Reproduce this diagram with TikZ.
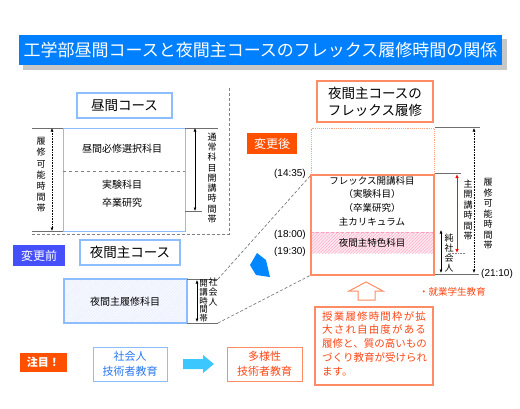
\documentclass[tikz,border=0pt]{standalone}
\usepackage{fontspec}
\setmainfont{Liberation Sans}
\newfontfamily\cjk{Noto Sans CJK JP}
\newfontfamily\cjkwide[LetterSpace=11]{Noto Sans CJK JP}
\usetikzlibrary{patterns.meta,arrows.meta}
\definecolor{titleblue}{RGB}{0,128,255}
\definecolor{lblue}{RGB}{140,190,255}
\definecolor{beforeblue}{RGB}{70,80,250}
\definecolor{lorange}{RGB}{255,140,100}
\definecolor{redorange}{RGB}{255,80,0}
\definecolor{otext}{RGB}{255,70,20}
\definecolor{pinkh}{RGB}{255,160,190}
\definecolor{cyanar}{RGB}{60,200,255}
\definecolor{btext}{RGB}{40,120,240}
\definecolor{dimgray}{RGB}{110,110,110}
\begin{document}
\begin{tikzpicture}[x=1pt,y=-1pt,
  box/.style={inner sep=0pt, outer sep=0pt, anchor=north west},
  lbbox/.style={box, draw=lblue, line width=1.6pt, fill=white, font=\cjk\fontsize{13.5}{16}\selectfont},
  obox/.style={box, draw=lorange, line width=1.6pt, fill=white},
  tag/.style={box, text=white, font=\cjk\fontsize{12}{14}\selectfont},
  body/.style={inner sep=0pt, font=\cjk\fontsize{10}{12}\selectfont},
  vt/.style={inner sep=0pt, align=center, font=\cjk\fontsize{9}{11.2}\selectfont},
  tlabel/.style={inner sep=0pt, font=\fontsize{10}{12}\selectfont},
  dimline/.style={dimgray, line width=0.7pt},
  darr/.style={line width=0.6pt, {Latex[length=3.5pt,width=3pt]}-{Latex[length=3.5pt,width=3pt]}},
]
\useasboundingbox (0,0) rectangle (520,408);
\fill[white] (0,0) rectangle (520,408);

% title
\fill[black!22] (23,39) rectangle (507,70);
\node[box, fill=titleblue, minimum width=483pt, minimum height=30pt, text=white,
  font=\cjk\fontsize{17}{20}\selectfont] (title) at (19,35) {工学部昼間コースと夜間主コースのフレックス履修時間の関係};

% ===== day course =====
\node[lbbox, minimum width=95pt, minimum height=25pt] (hiru) at (77,93) {昼間コース};
\node[box, draw=lblue, line width=0.8pt, minimum width=122pt, minimum height=103pt] (hmain) at (63,128) {};
\draw[gray, dashed, line width=0.6pt] (63,171) -- (185,171);
\node[body] (h1) at (122,149) {昼間必修選択科目};
\node[body] (h2) at (122,185) {実験科目};
\node[body] (h3) at (122,203) {卒業研究};
% left dimension
\coordinate (la) at (32,128); \coordinate (lb) at (32,231);
\draw[dimline] (la) -- (hmain.north west);
\draw[dimline] (lb) -- (hmain.south west);
\draw[darr, densely dotted] (52,128) -- (52,231);
\node[vt] (hv1) at (41,175) {履\\修\\可\\能\\時\\間\\帯};
% right dimension
\draw[dimline] (hmain.north east) -- (218,128);
\draw[dimline] (185,211) -- (202,211);
\draw[darr] (195,128) -- (195,211);
\node[vt, font=\cjk\fontsize{9}{10.3}\selectfont] (hv2) at (212,178) {通\\常\\科\\目\\開\\講\\時\\間\\帯};
% dashed outline
\draw[gray, densely dashed, line width=0.6pt] (229,88) -- (229,234) -- (32,234);

% ===== night course (before) =====
\node[tag, fill=beforeblue, minimum width=52pt, minimum height=21pt] (before) at (13,245) {変更前};
\node[lbbox, minimum width=100pt, minimum height=25pt] (yakan) at (80,240) {夜間主コース};
\fill[blue!3] (64,279) rectangle (187,323);
\fill[pattern={Lines[angle=45,distance=2.2pt,line width=0.3pt]}, pattern color=lblue!28] (64,279) rectangle (187,323);
\node[box, draw=lblue, line width=1.6pt, minimum width=123pt, minimum height=44pt] (ymain) at (64,279) {};
\node[body] (y1) at (125,302) {夜間主履修科目};
\draw[dimline] (ymain.north east) -- (218,279);
\draw[dimline] (ymain.south east) -- (218,323);
\draw[darr] (197,280) -- (197,322);
\node[vt, font=\cjk\fontsize{8.5}{8.8}\selectfont] (yv1) at (203.5,301) {開\\講\\時\\間\\帯};
\node[vt, font=\cjk\fontsize{9}{10}\selectfont] (yv2) at (213,292) {社\\会\\人};

% ===== flex (after) =====
\node[obox, minimum width=116pt, minimum height=41pt, align=center,
  font=\cjk\fontsize{13.5}{17}\selectfont] (fxt) at (317,81) {夜間主コースの\\フレックス履修};
\node[tag, fill=redorange, minimum width=50pt, minimum height=21pt] (after) at (247,133) {変更後};
\draw[lorange!80, densely dotted, line width=0.9pt] (311,175) -- (311,128) -- (434,128) -- (434,175);
\fill[pinkh!25] (311,232) rectangle (434,253);
\fill[pattern={Lines[angle=45,distance=2.2pt,line width=0.35pt]}, pattern color=pinkh] (311,232) rectangle (434,253);
\draw[pinkh, densely dashed, line width=0.6pt] (311,232) -- (434,232);
\node[box, draw=lorange, line width=1.8pt, minimum width=123pt, minimum height=100pt] (flex) at (311,175) {};
\node[body, font=\cjk\fontsize{9.5}{11}\selectfont] (f1) at (372,181) {フレックス開講科目};
\node[body, font=\cjk\fontsize{9.5}{11}\selectfont] (f2) at (372,194) {（実験科目）};
\node[body, font=\cjk\fontsize{9.5}{11}\selectfont] (f3) at (372,208) {（卒業研究）};
\node[body, font=\cjk\fontsize{9.5}{11}\selectfont] (f4) at (372,222) {主カリキュラム};
\node[body, font=\cjk\fontsize{9.5}{11}\selectfont] (f5) at (372,243) {夜間主特色科目};

% time labels
\node[tlabel, anchor=east] (t1) at (306,174) {(14:35)};
\node[tlabel, anchor=east] (t2) at (306,235) {(18:00)};
\node[tlabel, anchor=east] (t3) at (306,252) {(19:30)};
\node[tlabel, anchor=west] (t4) at (481,274) {(21:10)};

% connecting dashed lines
\draw[dimgray, densely dashed, line width=0.6pt] (218,279) -- (flex.north west);
\draw[dimgray, densely dashed, line width=0.6pt] (218,323) -- (flex.south west);

% blue arrow
\fill[titleblue!95!cyan] (257,253) -- (266,260) -- (270,277) -- (256,275) -- (250,265) -- cycle;

% right dimensions
\draw[dimline] (435,127) -- (480,127);
\draw[dimline] (435,274) -- (479,274);
\draw[dimline] (435,173) -- (461,173);
\draw[darr, densely dotted] (474,128) -- (474,273);
\draw[line width=1pt, red!90!orange, {Latex[length=4pt,width=3.5pt]}-{Latex[length=4pt,width=3.5pt]}] (457,174) -- (457,253);
\draw[gray, densely dotted, line width=0.6pt] (450,253) -- (465,253);
\draw[darr] (441,230) -- (441,273);
\node[vt, font=\cjk\fontsize{9}{10.5}\selectfont] (rv1) at (468,210) {主\\開\\講\\時\\間\\帯};
\node[vt, font=\cjk\fontsize{9}{10.5}\selectfont] (rv2) at (488,214) {履\\修\\可\\能\\時\\間\\帯};
\node[vt, font=\cjk\fontsize{9}{10}\selectfont] (rv3) at (449,253) {純\\社\\会\\人};

% up outline arrow
\draw[lorange, line width=1pt, fill=white] (358,300) -- (358,291) -- (349,291) -- (366,282) -- (383,291) -- (375,291) -- (375,300) -- cycle;
\node[inner sep=0pt, anchor=west, text=otext, font=\cjk\fontsize{9.5}{11}\selectfont] (shu) at (419,292) {・就業学生教育};

% big text box
\node[obox, minimum width=118pt, minimum height=78pt] (big) at (315,307) {};
\node[inner sep=0pt, anchor=north west, align=left, text=otext, font=\cjk\fontsize{10.5}{13.8}\selectfont] (bigt) at (322,311)
 {{\cjkwide 授業履修時間枠が拡}\\{\cjkwide 大され自由度がある}\\履修と、質の高いもの\\づくり教育が受けられ\\ます。};

% bottom row
\node[tag, fill=redorange, minimum width=47pt, minimum height=19pt, font=\cjk\bfseries\fontsize{11}{13}\selectfont] (note) at (20,353) {注目！};
\node[box, draw=lblue, line width=1pt, minimum width=74pt, minimum height=34pt, align=center, text=btext,
  font=\cjk\fontsize{11}{15}\selectfont] (soc) at (93,347) {社会人\\技術者教育};
\node[box, draw=lorange, line width=1pt, minimum width=75pt, minimum height=34pt, align=center, text=otext,
  font=\cjk\fontsize{11}{15}\selectfont] (tayo) at (227,347) {多様性\\技術者教育};
\fill[cyanar] (183,359) -- (203,359) -- (203,355) -- (214,364) -- (203,373) -- (203,369) -- (183,369) -- cycle;
\end{tikzpicture}
\end{document}
